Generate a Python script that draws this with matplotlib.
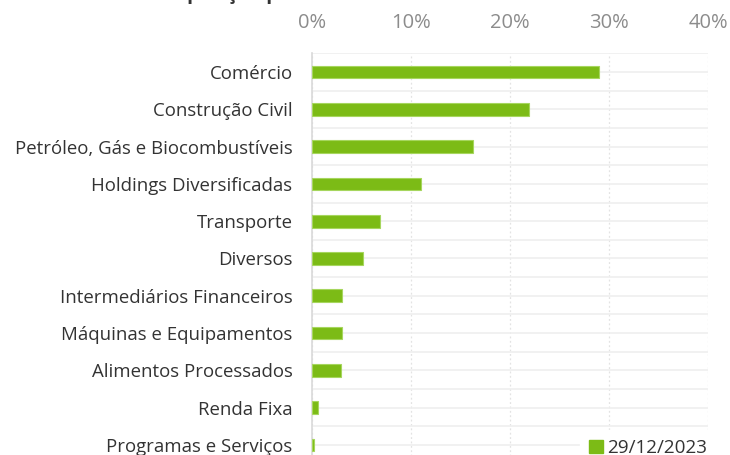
import matplotlib
matplotlib.use('Agg')
import matplotlib.pyplot as plt
from matplotlib.patches import Patch
import numpy as np

plt.rcParams['font.family'] = ['Open Sans', 'DejaVu Sans']

# dados
setores = ['Comércio', 'Construção Civil', 'Petróleo, Gás e Biocombustíveis',
           'Holdings Diversificadas', 'Transporte', 'Diversos',
           'Intermediários Financeiros', 'Máquinas e Equipamentos',
           'Alimentos Processados', 'Renda Fixa', 'Programas e Serviços']
pesos = [29.0, 21.9, 16.3, 11.0, 6.9, 5.2, 3.0, 3.0, 2.9, 0.6, 0.2]
data_ref = '29/12/2023'
titulo = 'Exposição por setor do fundo'

VERDE = '#7cbb16'
W, H = 730, 455

fig = plt.figure(figsize=(7.3, 4.55), dpi=100)
fig.patch.set_facecolor('white')

# eixo maior que a figura (a última categoria fica cortada embaixo)
top_px, bot_px = 53.5, 463.5
ax = fig.add_axes([312 / W, 1 - bot_px / H, 396 / W, (bot_px - top_px) / H])

y = np.arange(len(setores))
ax.barh(y, pesos, height=0.34, color=VERDE, edgecolor='#a6d65e',
        linewidth=0.8, zorder=3)

ax.set_xlim(0, 40)
ax.set_ylim(len(setores) - 0.5, -0.5)

ax.xaxis.tick_top()
ax.set_xticks([0, 10, 20, 30, 40])
ax.set_xticklabels(['0%', '10%', '20%', '30%', '40%'])
ax.tick_params(axis='x', length=0, pad=15, labelsize=14.5, labelcolor='#8c8c8c')

ax.set_yticks(y)
ax.set_yticklabels(setores)
ax.set_yticks(np.arange(len(setores) + 1) - 0.5, minor=True)
ax.tick_params(axis='y', which='both', length=0, pad=14, labelsize=13.4,
               labelcolor='#333333')

# grades
ax.grid(axis='x', color='#e3e3e3', linestyle=(0, (1.5, 2)), linewidth=0.9, zorder=0)
ax.grid(axis='y', which='major', color='#efefef', linewidth=1.2, zorder=0)
ax.grid(axis='y', which='minor', color='#efefef', linewidth=1.2, zorder=0)

for s in ['top', 'right', 'bottom']:
    ax.spines[s].set_visible(False)
ax.spines['left'].set_color('#d9d9d9')
ax.spines['left'].set_linewidth(1.2)

# título (cortado no topo)
fig.text(165 / W, 1 + 1.0 / H, titulo, ha='left', va='baseline',
         fontsize=14, fontweight='bold', color='#333333')

# legenda
leg = fig.legend(handles=[Patch(facecolor=VERDE, edgecolor=VERDE)],
                 labels=[data_ref], loc='upper left',
                 bbox_to_anchor=(580 / W, 1 - 430 / H),
                 frameon=True, fancybox=False, framealpha=1,
                 edgecolor='white', facecolor='white',
                 fontsize=13.6, handlelength=0.7, handleheight=0.7,
                 handletextpad=0.25, borderpad=0.5, borderaxespad=0)
for t in leg.get_texts():
    t.set_color('#333333')

plt.savefig('out.png', dpi=100, facecolor='white')
plt.close()
